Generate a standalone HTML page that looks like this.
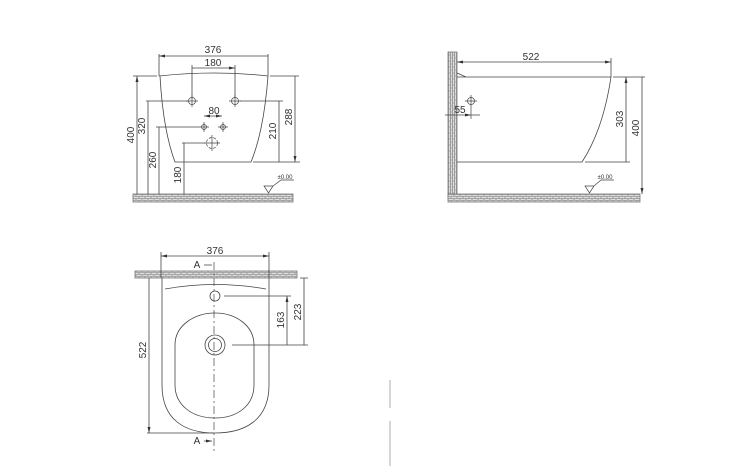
<!DOCTYPE html>
<html><head><meta charset="utf-8"><style>
html,body{margin:0;padding:0;background:#fff}
svg{display:block}
text{font-family:"Liberation Sans",sans-serif;font-size:10px;fill:#333}
</style></head><body>
<svg width="741" height="468" viewBox="0 0 741 468" xmlns="http://www.w3.org/2000/svg">
<defs>
<pattern id="hb" width="6" height="4" patternUnits="userSpaceOnUse">
<rect width="6" height="4" fill="#ddd"/>
<path d="M0 .5H6M0 2.5H6M1 .5V2.5M4 2.5V4.5" stroke="#777" stroke-width=".6" fill="none"/>
</pattern>
<pattern id="vb" width="4" height="6" patternUnits="userSpaceOnUse">
<rect width="4" height="6" fill="#ddd"/>
<path d="M.5 0V6M2.5 0V6M.5 1H2.5M2.5 4H4.5" stroke="#777" stroke-width=".6" fill="none"/>
</pattern>
<marker id="a" markerWidth="6" markerHeight="6" refX="6" refY="3" orient="auto-start-reverse" markerUnits="userSpaceOnUse"><path d="M0,1.5L6,3L0,4.5Z" fill="#333"/></marker>
</defs>
<g stroke="#444" stroke-width=".8" fill="none">
<rect x="133" y="194" width="160" height="8" fill="url(#hb)" stroke="#777"/>
<path d="M159 76 Q214 70 268 76"/>
<path d="M160 76 Q163 130 175 162 L251 162 Q264 130 268 76"/>
<path d="M159 54V76M268 54V76M192 65V97M235 65V97"/>
<path d="M159 56H268M192 68H235" marker-start="url(#a)" marker-end="url(#a)"/>
<path d="M204 116H222" marker-start="url(#a)" marker-end="url(#a)"/>
<g stroke-width=".7">
<circle cx="192" cy="101" r="3.5"/><path d="M186 101H198M192 95V107"/>
<circle cx="235" cy="101" r="3.5"/><path d="M229 101H241M235 95V107"/>
<circle cx="204" cy="127" r="2.5"/><path d="M199 127H209M204 122V132"/>
<circle cx="223" cy="127" r="2.5"/><path d="M218 127H228M223 122V132"/>
<circle cx="212" cy="143" r="5.5" stroke-dasharray="3 1.5"/><path d="M204 143H220M212 135V151"/>
</g>
<path d="M133 76H157M146 101H188M240 101H283M156 127H199M182 143H205M270 76H299M253 162H300"/>
<path d="M137 76V194M148 101V194M159 127V194M184 143V194M279 101V162M295 76V162" marker-start="url(#a)" marker-end="url(#a)"/>
<path d="M264 186H273L268.5 193Z M273 186L281 180H294" stroke-width=".7"/>
<rect x="448" y="52" width="9" height="146" fill="url(#vb)" stroke="#777"/>
<rect x="448" y="194" width="192" height="8" fill="url(#hb)" stroke="#777"/>
<path d="M457 77H611 Q603 130 582 162 H457M457 73 L466 77"/>
<path d="M611 58V77"/>
<path d="M457 62H611" marker-start="url(#a)" marker-end="url(#a)"/>
<circle cx="471" cy="101" r="3.5" stroke-width=".7"/><path d="M465 101H477M471 95V107M471 104V119" stroke-width=".7"/>
<path d="M448 115H471" marker-end="url(#a)"/><path d="M471 115H480M445 115H448"/>
<path d="M613 77H645M585 162H630"/>
<path d="M626 77V162M642 77V194" marker-start="url(#a)" marker-end="url(#a)"/>
<path d="M585 186H594L589.5 193Z M594 186L601 180H614" stroke-width=".7"/>
<rect x="135" y="271" width="162" height="7" fill="url(#hb)" stroke="#777"/>
<path d="M161 252V278M269 252V278"/>
<path d="M161 256H269" marker-start="url(#a)" marker-end="url(#a)"/>
<path d="M162 278V385 C162 420 185 433 215 433 C245 433 269 420 269 385V278"/>
<path d="M165 289 Q215 280 266 289"/>
<path d="M175 345 C175 325 195 313 215 313 C235 313 254 325 254 345 V385 C254 405 238 418 215 418 C192 418 175 405 175 385Z"/>
<circle cx="215" cy="296" r="5"/>
<circle cx="215" cy="345" r="10"/><circle cx="215" cy="345" r="6.5"/>
<path d="M214 262V452" stroke-dasharray="8 3 2 3" stroke-width=".7"/>
<path d="M204 265H212M204 441H212" marker-end="url(#a)"/>
<path d="M224 296H291M232 345H308M300 278H308M147 433H214"/>
<path d="M287 296V345M304 278V345M149 278V433" marker-start="url(#a)" marker-end="url(#a)"/>
<path d="M390 380V408M390 421V466" stroke="#999"/>
</g>
<g>
<text x="213" y="53" text-anchor="middle">376</text>
<text x="213" y="66" text-anchor="middle">180</text>
<text x="214" y="114" text-anchor="middle">80</text>
<text transform="translate(134,135) rotate(-90)" text-anchor="middle">400</text>
<text transform="translate(145,126) rotate(-90)" text-anchor="middle">320</text>
<text transform="translate(156,160) rotate(-90)" text-anchor="middle">260</text>
<text transform="translate(181,175) rotate(-90)" text-anchor="middle">180</text>
<text transform="translate(276,131) rotate(-90)" text-anchor="middle">210</text>
<text transform="translate(292,117) rotate(-90)" text-anchor="middle">288</text>
<text x="285" y="179" text-anchor="middle" style="font-size:6px">±0.00</text>
<text x="531" y="60" text-anchor="middle">522</text>
<text x="460" y="113" text-anchor="middle">55</text>
<text transform="translate(623,119) rotate(-90)" text-anchor="middle">303</text>
<text transform="translate(639,128) rotate(-90)" text-anchor="middle">400</text>
<text x="605" y="179" text-anchor="middle" style="font-size:6px">±0.00</text>
<text x="215" y="254" text-anchor="middle">376</text>
<text x="197" y="268" text-anchor="middle">A</text>
<text x="197" y="444" text-anchor="middle">A</text>
<text transform="translate(284,320) rotate(-90)" text-anchor="middle">163</text>
<text transform="translate(301,312) rotate(-90)" text-anchor="middle">223</text>
<text transform="translate(146,350) rotate(-90)" text-anchor="middle">522</text>
</g>
</svg>
</body></html>
